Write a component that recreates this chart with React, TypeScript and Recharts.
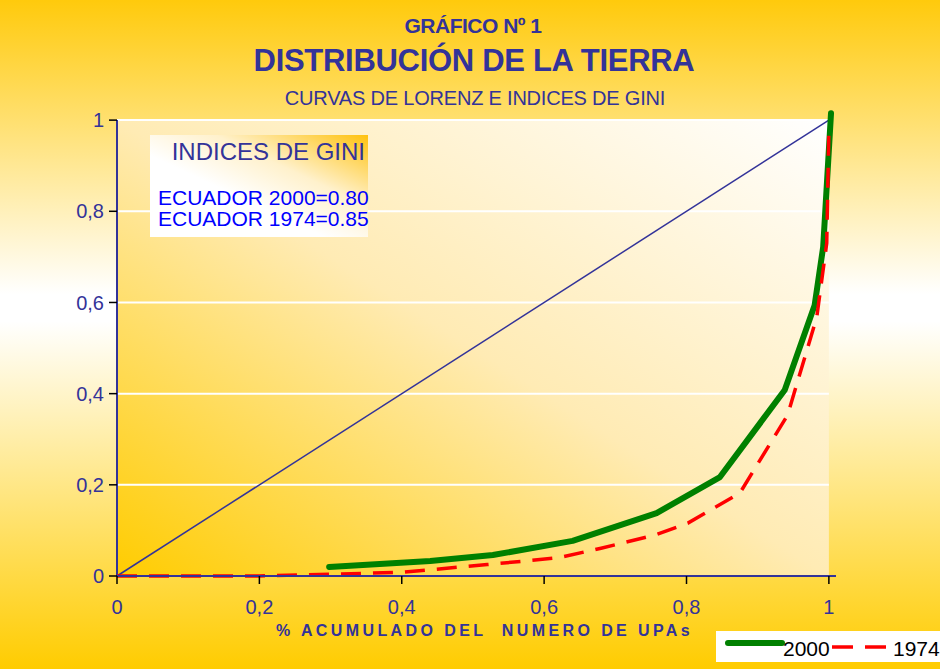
import { LineChart, Line, XAxis, YAxis, ReferenceArea, ReferenceLine } from "recharts"

// curvas de Lorenz
const x2000 = [0.298, 0.44, 0.528, 0.64, 0.758, 0.847, 0.938, 0.98, 0.992, 1.003]
const y2000 = [0.02, 0.033, 0.046, 0.077, 0.138, 0.217, 0.408, 0.594, 0.722, 1.015]

const x1974 = [0, 0.2, 0.4, 0.52, 0.62, 0.68, 0.756, 0.802, 0.875, 0.942, 0.983, 0.997, 1.0]
const y1974 = [0, 0, 0.008, 0.025, 0.04, 0.061, 0.09, 0.116, 0.182, 0.353, 0.568, 0.73, 0.978]

const equalityX = [0, 1]
const equalityY = [0, 1]

const xTicks = [0, 0.2, 0.4, 0.6, 0.8, 1]
const yTicks = [0, 0.2, 0.4, 0.6, 0.8, 1]
const gridLevels = [0.2, 0.4, 0.6, 0.8, 1]

const giniLines = ["ECUADOR 2000=0.80", "ECUADOR 1974=0.85"]

const series = [
  { name: "2000", color: "#008000", dash: false },
  { name: "1974", color: "#FF0000", dash: true },
]

const toPoints = (xs: number[], ys: number[]) => xs.map((x, i) => ({ x, y: ys[i] }))

const data2000 = toPoints(x2000, y2000)
const data1974 = toPoints(x1974, y1974)
const dataEquality = toPoints(equalityX, equalityY)

const fmt = (v: number) => String(v).replace(".", ",")

const BLUE = "#333399"
const FONT = "'Liberation Sans', Arial, sans-serif"

export default function App() {
  return (
    <div
      style={{
        position: "absolute",
        left: 0,
        top: 0,
        width: 940,
        height: 669,
        fontFamily: FONT,
        background: "linear-gradient(to bottom, #FFCA0C 0%, #FFFFFF 44%, #FFFFFF 48%, #FFCC00 100%)",
        overflow: "hidden",
        whiteSpace: "nowrap",
      }}
    >
      <div style={{ position: "absolute", left: 3, width: 940, top: 14, textAlign: "center", color: BLUE, fontWeight: "bold", fontSize: 21, letterSpacing: -0.5 }}>
        GRÁFICO Nº 1
      </div>
      <div style={{ position: "absolute", left: 4, width: 940, top: 43, textAlign: "center", color: BLUE, fontWeight: "bold", fontSize: 31, letterSpacing: -0.3 }}>
        DISTRIBUCIÓN DE LA TIERRA
      </div>
      <div style={{ position: "absolute", left: 5, width: 940, top: 87, textAlign: "center", color: BLUE, fontSize: 20, letterSpacing: -0.2 }}>
        CURVAS DE LORENZ E INDICES DE GINI
      </div>

      <LineChart width={940} height={669} margin={{ top: 111, right: 104, bottom: 53, left: 57 }}>
        <defs>
          <linearGradient id="plotGrad" x1="0" y1="1" x2="1" y2="0">
            <stop offset="0%" stopColor="#FFCC00" />
            <stop offset="50%" stopColor="#FFEBB4" />
            <stop offset="100%" stopColor="#FFFFFF" />
          </linearGradient>
        </defs>
        <XAxis
          type="number"
          dataKey="x"
          domain={[0, 1.01]}
          ticks={xTicks}
          tickFormatter={fmt}
          height={40}
          axisLine={{ stroke: BLUE, strokeWidth: 2 }}
          tickLine={{ stroke: "#000", strokeWidth: 1.5 }}
          tickSize={8}
          tickMargin={16}
          tick={{ fill: BLUE, fontSize: 20, fontFamily: FONT }}
        />
        <YAxis
          type="number"
          dataKey="y"
          domain={[0, 1.02]}
          ticks={yTicks}
          tickFormatter={fmt}
          width={60}
          axisLine={false}
          tickLine={{ stroke: "#000", strokeWidth: 1.5 }}
          tickSize={8}
          tickMargin={5}
          tick={{ fill: BLUE, fontSize: 20, fontFamily: FONT }}
        />
        <ReferenceArea x1={0} x2={1} y1={0} y2={1} fill="url(#plotGrad)" fillOpacity={1} stroke="none" />
        {gridLevels.map((g) => (
          <ReferenceLine key={g} segment={[{ x: 0, y: g }, { x: 1, y: g }]} stroke="#FFFFFF" strokeWidth={2} />
        ))}
        <ReferenceLine segment={[{ x: 0, y: 0 }, { x: 0, y: 1 }]} stroke={BLUE} strokeWidth={2} />
        <Line data={dataEquality} dataKey="y" type="linear" stroke={BLUE} strokeWidth={1.5} dot={false} isAnimationActive={false} />
        <Line data={data2000} dataKey="y" type="linear" stroke={series[0].color} strokeWidth={6} strokeLinecap="round" strokeLinejoin="round" dot={false} isAnimationActive={false} />
        <Line data={data1974} dataKey="y" type="linear" stroke={series[1].color} strokeWidth={3.5} strokeDasharray="20 12" dot={false} isAnimationActive={false} />
      </LineChart>

      <div
        style={{
          position: "absolute",
          left: 150,
          top: 135,
          width: 218,
          height: 102,
          background: "linear-gradient(to top right, #FFFFFF 0%, #FFFFFF 40%, #FFF1CC 65%, #FFC20E 100%)",
        }}
      >
        <div style={{ position: "absolute", right: 3, top: 3, color: BLUE, fontSize: 24 }}>INDICES DE GINI</div>
        {giniLines.map((t, i) => (
          <div key={t} style={{ position: "absolute", left: 8, top: 52 + i * 21, color: "#0000FF", fontSize: 21, lineHeight: "21px" }}>
            {t}
          </div>
        ))}
      </div>

      <div style={{ position: "absolute", left: 276, top: 622, color: BLUE, fontWeight: "bold", fontSize: 16, letterSpacing: 3.4, whiteSpace: "pre" }}>
        {"% ACUMULADO DEL  NUMERO DE UPAs"}
      </div>

      <div style={{ position: "absolute", left: 716, top: 631, width: 224, height: 31, background: "#FFFFFF" }}>
        <svg width={224} height={31} style={{ position: "absolute", left: 0, top: 0 }}>
          <line x1={12} y1={12} x2={66} y2={12} stroke={series[0].color} strokeWidth={6} strokeLinecap="round" />
          <line x1={116} y1={16} x2={171} y2={16} stroke={series[1].color} strokeWidth={3.5} strokeDasharray="21 12" />
        </svg>
        <div style={{ position: "absolute", left: 67, top: 6, fontSize: 21, color: "#000" }}>{series[0].name}</div>
        <div style={{ position: "absolute", left: 177, top: 6, fontSize: 21, color: "#000" }}>{series[1].name}</div>
      </div>
    </div>
  )
}
